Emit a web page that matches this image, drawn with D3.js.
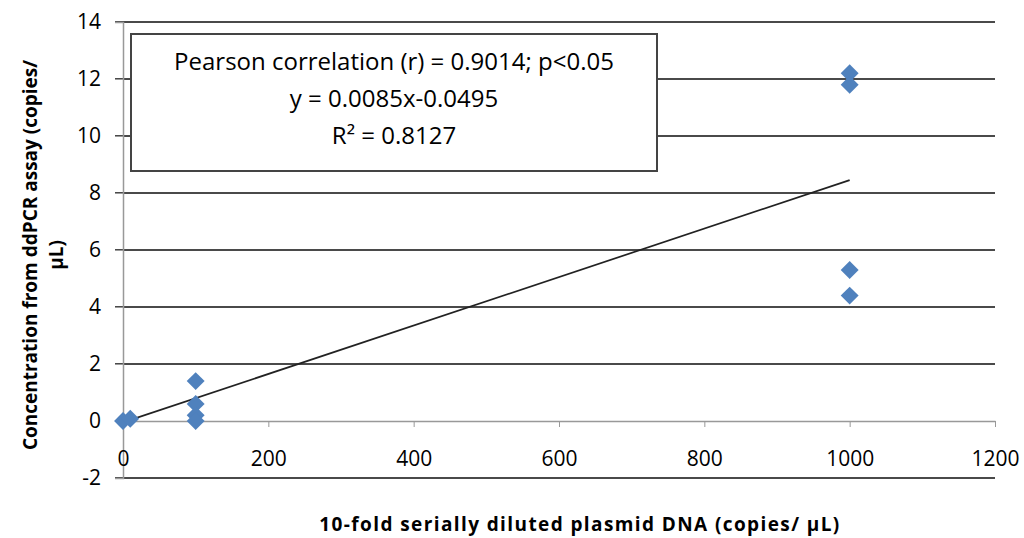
<!DOCTYPE html>
<html>
<head>
<meta charset="utf-8">
<script src="https://d3js.org/d3.v7.min.js"></script>
<style>
  body { margin: 0; background: #fff; }
  text { font-family: "Open Sans", "Noto Sans", sans-serif; fill: #000; }
</style>
</head>
<body>
<script>
// plasmid input (copies/uL) vs ddPCR result (copies/uL)
var inputCopies = [0, 10, 100, 100, 100, 100, 1000, 1000, 1000, 1000];
var measured    = [0, 0.08, 1.4, 0.6, 0.2, 0.0, 12.2, 11.8, 5.3, 4.4];
var xTicks = [0, 200, 400, 600, 800, 1000, 1200];
var yTicks = [-2, 0, 2, 4, 6, 8, 10, 12, 14];
// linear fit reported in the figure
var slope = 0.0085, intercept = -0.0495;
var fitRange = [0, 1000];
var noteLines = ["Pearson correlation (r) = 0.9014; p<0.05", "y = 0.0085x-0.0495", "R\u00b2 = 0.8127"];

var W = 1024, H = 538;
var svg = d3.select("body").append("svg").attr("width", W).attr("height", H);

var x = d3.scaleLinear().domain([0, 1200]).range([123, 995]);
var y = d3.scaleLinear().domain([-2, 14]).range([478, 22]);
var fmt = function(d){ return String(d); };

// horizontal gridlines
svg.selectAll("line.grid").data(yTicks.filter(function(d){ return d !== 0; }))
  .enter().append("line").attr("class", "grid")
  .attr("x1", 115).attr("x2", x(1200))
  .attr("y1", function(d){ return y(d); }).attr("y2", function(d){ return y(d); })
  .attr("stroke", "#4a4a4a").attr("stroke-width", 2);

// y axis
var yAxis = svg.append("g").attr("transform", "translate(" + x(0) + ",0)")
  .call(d3.axisLeft(y).tickValues(yTicks).tickFormat(fmt).tickSize(8).tickPadding(14));
yAxis.select(".domain").attr("stroke", "#999").attr("stroke-width", 1.5);
yAxis.selectAll(".tick line").attr("stroke", "#999");
yAxis.selectAll("text").style("font-size", "21px").attr("fill", "#000");

// x axis at y = 0
var xAxis = svg.append("g").attr("transform", "translate(0," + y(0) + ")")
  .call(d3.axisBottom(x).tickValues(xTicks).tickFormat(fmt).tickSize(6).tickPadding(24).tickSizeOuter(0));
xAxis.select(".domain").attr("stroke", "#999").attr("stroke-width", 1.5);
xAxis.selectAll(".tick line").attr("stroke", "#999");
xAxis.selectAll("text").style("font-size", "21px").attr("fill", "#000");

// trendline
svg.append("line")
  .attr("x1", x(fitRange[0])).attr("y1", y(slope * fitRange[0] + intercept))
  .attr("x2", x(fitRange[1])).attr("y2", y(slope * fitRange[1] + intercept))
  .attr("stroke", "#222").attr("stroke-width", 1.7);

// diamonds
var diamond = d3.symbol().type(d3.symbolSquare).size(160);
svg.selectAll("path.pt").data(inputCopies)
  .enter().append("path").attr("class", "pt")
  .attr("d", diamond)
  .attr("transform", function(d, i){ return "translate(" + x(d) + "," + y(measured[i]) + ") rotate(45)"; })
  .attr("fill", "#4f81bd");

// annotation box
svg.append("rect").attr("x", 131).attr("y", 34).attr("width", 526).attr("height", 137)
  .attr("fill", "#fff").attr("stroke", "#444").attr("stroke-width", 2);
svg.selectAll("text.note").data(noteLines).enter().append("text").attr("class", "note")
  .attr("x", 394).attr("y", function(d, i){ return 70 + i * 37; })
  .attr("text-anchor", "middle").style("font-size", "24px")
  .text(function(d){ return d; });

// axis titles
svg.append("text").attr("x", 580).attr("y", 531).attr("text-anchor", "middle")
  .style("font-size", "19px").style("font-weight", "bold").style("letter-spacing", "1.4px")
  .text("10-fold serially diluted plasmid DNA (copies/ \u00b5L)");
var yt = svg.append("text").attr("transform", "translate(37,255) rotate(-90)")
  .attr("text-anchor", "middle").style("font-size", "19px").style("font-weight", "bold");
yt.append("tspan").attr("x", 0).attr("dy", 0).text("Concentration from ddPCR assay (copies/");
yt.append("tspan").attr("x", 0).attr("dy", 26).text("\u00b5L)");
</script>
</body>
</html>
